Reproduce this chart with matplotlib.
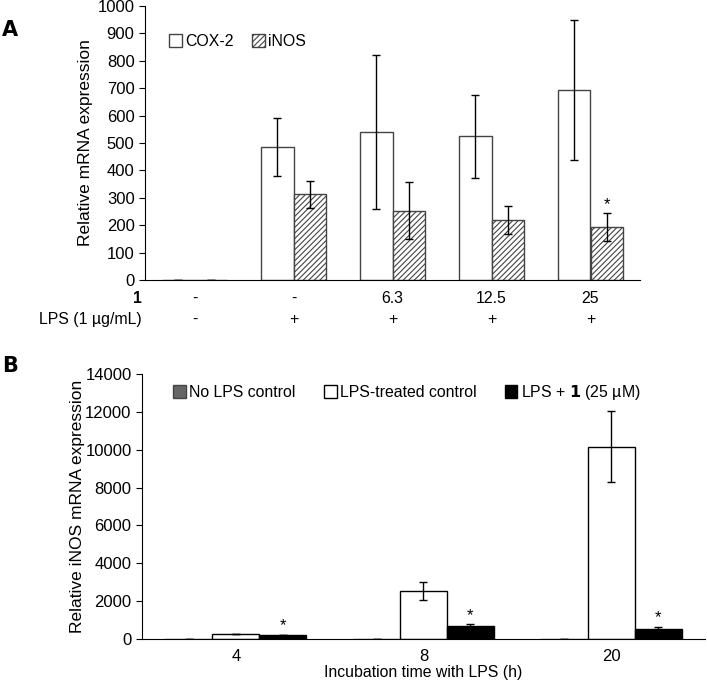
import numpy as np
import matplotlib.pyplot as plt
import matplotlib.transforms as mtransforms

plt.rcParams['font.family'] = ['Liberation Sans', 'DejaVu Sans']
plt.rcParams['hatch.linewidth'] = 0.8

# panel A data
compound_row = ["-", "-", "6.3", "12.5", "25"]
lps_row = ["-", "+", "+", "+", "+"]
cox2 = [1, 486, 540, 524, 693]
cox2_err = [0, 106, 280, 152, 256]
inos = [1, 313, 253, 219, 193]
inos_err = [0, 50, 105, 52, 52]
inos_star = [False, False, False, False, True]

# panel B data
times = ["4", "8", "20"]
no_lps = [1, 1, 1]
no_lps_err = [0, 0, 0]
lps_ctrl = [264, 2534, 10155]
lps_ctrl_err = [15, 470, 1870]
lps_cmpd = [205, 704, 545]
lps_cmpd_err = [20, 80, 90]

TICK_FS = 12
LABEL_FS = 12.5
TEXT_FS = 11.4

fig = plt.figure(figsize=(7.07, 6.82), dpi=100)
W, H = 707, 682

def px_axes(l, t, r, b):
    return fig.add_axes([l / W, 1 - b / H, (r - l) / W, (b - t) / H])

# ---- panel A
axA = px_axes(145, 6, 640, 280)
x = np.arange(len(cox2))
w = 0.333
eb = dict(ecolor='black', capsize=3, elinewidth=1, capthick=1)
axA.bar(x - w / 2, cox2, w, yerr=cox2_err, color='white', edgecolor='#444444',
        linewidth=1, label='COX-2', error_kw=eb)
axA.bar(x + w / 2, inos, w, yerr=inos_err, color='white', edgecolor='#444444',
        linewidth=1, hatch='//////', label='iNOS', error_kw=eb)
for i, s in enumerate(inos_star):
    if s:
        axA.text(x[i] + w / 2, inos[i] + inos_err[i] + 3, '*', ha='center',
                 va='bottom', fontsize=12)
axA.set_xlim(-0.5, len(cox2) - 0.5)
axA.set_ylim(0, 1000)
axA.set_yticks(np.arange(0, 1001, 100))
axA.set_xticks([])
axA.spines['top'].set_visible(False)
axA.spines['right'].set_visible(False)
axA.tick_params(axis='y', direction='out', length=4, labelsize=TICK_FS)
axA.set_ylabel('Relative mRNA expression', fontsize=LABEL_FS, labelpad=3)
axA.legend(loc='upper left', bbox_to_anchor=(0.02, 0.95), ncol=2, frameon=False,
           fontsize=TEXT_FS, handlelength=0.8, handleheight=0.8, handletextpad=0.2,
           columnspacing=1.2)

trA = mtransforms.blended_transform_factory(axA.transData, axA.transAxes)
y1 = -18 / 274
y2 = -39 / 274
for i in range(len(cox2)):
    axA.text(x[i], y1, compound_row[i], transform=trA, ha='center', va='center',
             fontsize=TEXT_FS)
    axA.text(x[i], y2, lps_row[i], transform=trA, ha='center', va='center',
             fontsize=TEXT_FS)
axA.text(-3 / 495, y1, '1', transform=axA.transAxes, ha='right', va='center',
         fontsize=TEXT_FS, fontweight='bold')
axA.text(-3 / 495, y2, 'LPS (1 \u00b5g/mL)', transform=axA.transAxes, ha='right',
         va='center', fontsize=TEXT_FS)

# ---- panel B
axB = px_axes(142, 374, 705, 639)
xb = np.arange(len(times))
wb = 0.25
axB.bar(xb - wb, no_lps, wb, yerr=no_lps_err, color='#666666', edgecolor='#444444',
        linewidth=1, label='No LPS control', error_kw=eb)
axB.bar(xb, lps_ctrl, wb, yerr=lps_ctrl_err, color='white', edgecolor='black',
        linewidth=1, label='LPS-treated control', error_kw=eb)
axB.bar(xb + wb, lps_cmpd, wb, yerr=lps_cmpd_err, color='black', edgecolor='black',
        linewidth=1, label=r'LPS + $\mathbf{1}$ (25 µM)', error_kw=eb)
for i in range(len(times)):
    axB.text(xb[i] + wb, lps_cmpd[i] + lps_cmpd_err[i] + 80, '*', ha='center',
             va='bottom', fontsize=12)
axB.set_xlim(-0.5, len(times) - 0.5)
axB.set_ylim(0, 14000)
axB.set_yticks(np.arange(0, 14001, 2000))
axB.set_xticks(xb)
axB.set_xticklabels(times)
axB.spines['top'].set_visible(False)
axB.spines['right'].set_visible(False)
axB.tick_params(axis='y', direction='out', length=4, labelsize=TICK_FS)
axB.tick_params(axis='x', length=0, labelsize=TICK_FS, pad=7)
axB.set_ylabel('Relative iNOS mRNA expression', fontsize=LABEL_FS, labelpad=0)
axB.set_xlabel('Incubation time with LPS (h)', fontsize=TEXT_FS, labelpad=1)
axB.legend(loc='upper left', bbox_to_anchor=(0.03, 1.02), ncol=3, frameon=False,
           fontsize=TEXT_FS, handlelength=0.8, handleheight=0.8, handletextpad=0.2,
           columnspacing=1.8)

fig.text(2 / W, 1 - 30 / H, 'A', fontsize=15, fontweight='bold', va='center',
         family=['DejaVu Sans'])
fig.text(2 / W, 1 - 366 / H, 'B', fontsize=15, fontweight='bold', va='center',
         family=['DejaVu Sans'])

fig.savefig('out.png', dpi=100)
